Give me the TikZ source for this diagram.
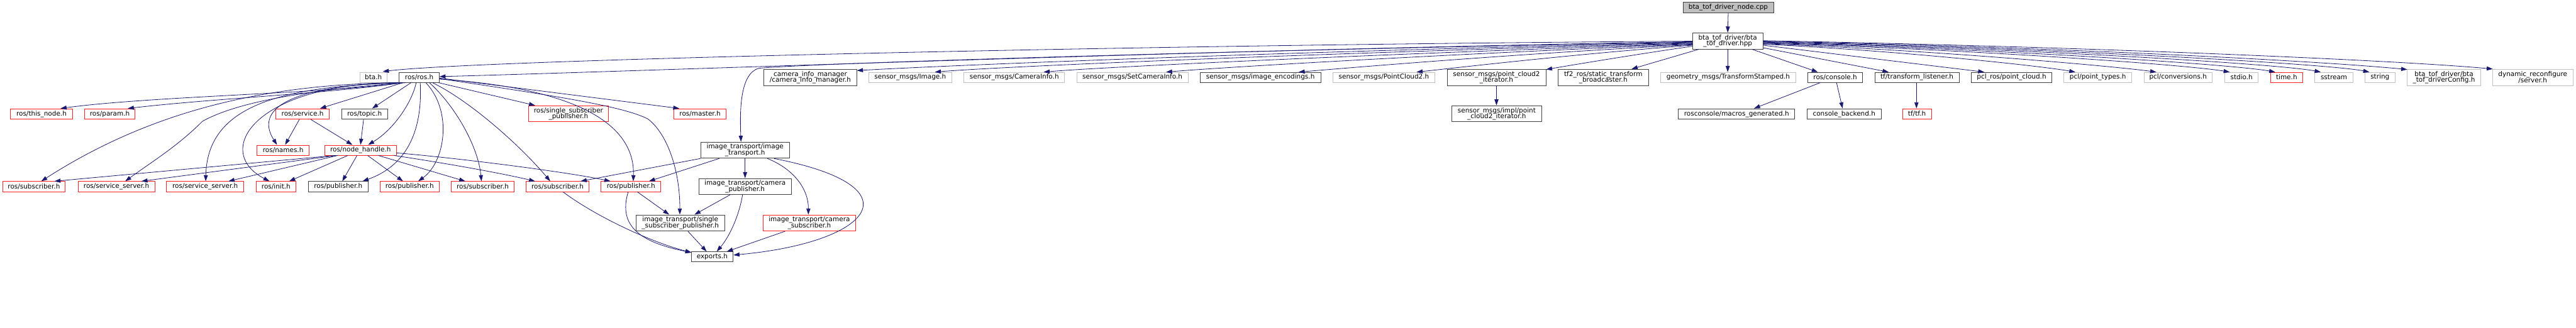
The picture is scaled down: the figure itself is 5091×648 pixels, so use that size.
\documentclass[tikz,border=0pt]{standalone}
\usepackage{fontspec}
\setmainfont{DejaVu Sans}
\usetikzlibrary{arrows.meta,calc}
\definecolor{edgeblue}{HTML}{191970}
\definecolor{boxgray}{HTML}{BFBFBF}
\definecolor{boxdark}{HTML}{404040}
\definecolor{boxred}{HTML}{FF2020}
\tikzset{
  fbox/.style={draw, rectangle, inner sep=0pt, align=center, fill=white, line width=1pt,
    font={\fontsize{13}{11.7}\selectfont\lineskiplimit=-20pt\lineskip=0pt}},
  dk/.style={fbox, draw=boxdark},
  gy/.style={fbox, draw=boxgray},
  rd/.style={fbox, draw=boxred},
  rt/.style={fbox, draw=boxdark, fill=boxgray},
  conn/.style={draw=edgeblue, line width=1pt, -{Triangle[length=12pt,width=8pt]}}
}
\newcommand\mknode[7]{%
  \pgfmathsetmacro\NDcx{(#3+#4)/2}\pgfmathsetmacro\NDcy{(#5+#6)/2}%
  \pgfmathsetmacro\NDw{#4-#3}\pgfmathsetmacro\NDh{#6-#5}%
  \node[#1, minimum width=\NDw pt, minimum height=\NDh pt] (#2) at (\NDcx,\NDcy) {#7};}
\begin{document}
\begin{tikzpicture}[x=1pt,y=-1pt]
\useasboundingbox (0,0) rectangle (5091,648);
% ---- nodes ----
\mknode{rt}{root}{3326}{3505}{4}{25}{bta\_tof\_driver\_node.cpp}
\mknode{dk}{hpp}{3345}{3484}{65}{97}{bta\_tof\_driver/bta\\\_tof\_driver.hpp}
\mknode{gy}{bta}{711}{765}{143}{163}{bta.h}
\mknode{dk}{rosros}{789}{868}{143}{163}{ros/ros.h}
\mknode{dk}{cim}{1510}{1693}{137}{169}{camera\_info\_manager\\/camera\_info\_manager.h}
\mknode{gy}{img}{1717}{1881}{143}{163}{sensor\_msgs/Image.h}
\mknode{gy}{caminfo}{1905}{2104}{143}{163}{sensor\_msgs/CameraInfo.h}
\mknode{gy}{setcam}{2128}{2348}{143}{163}{sensor\_msgs/SetCameraInfo.h}
\mknode{dk}{enc}{2372}{2610}{143}{163}{sensor\_msgs/image\_encodings.h}
\mknode{gy}{pc2}{2634}{2836}{143}{163}{sensor\_msgs/PointCloud2.h}
\mknode{dk}{pc2it}{2860}{3055}{137}{169}{sensor\_msgs/point\_cloud2\\\_iterator.h}
\mknode{dk}{tf2}{3079}{3258}{137}{169}{tf2\_ros/static\_transform\\\_broadcaster.h}
\mknode{gy}{geo}{3282}{3549}{143}{163}{geometry\_msgs/TransformStamped.h}
\mknode{dk}{console}{3573}{3681}{143}{163}{ros/console.h}
\mknode{dk}{tfl}{3705}{3872}{143}{163}{tf/transform\_listener.h}
\mknode{dk}{pclros}{3896}{4055}{143}{163}{pcl\_ros/point\_cloud.h}
\mknode{gy}{pcltypes}{4079}{4213}{143}{163}{pcl/point\_types.h}
\mknode{gy}{pclconv}{4237}{4372}{143}{163}{pcl/conversions.h}
\mknode{gy}{stdio}{4397}{4463}{143}{163}{stdio.h}
\mknode{rd}{time}{4487}{4551}{143}{163}{time.h}
\mknode{gy}{sstream}{4575}{4650}{143}{163}{sstream}
\mknode{gy}{string}{4674}{4733}{143}{163}{string}
\mknode{gy}{cfg}{4757}{4903}{137}{169}{bta\_tof\_driver/bta\\\_tof\_driverConfig.h}
\mknode{gy}{dyn}{4926}{5085}{137}{169}{dynamic\_reconfigure\\/server.h}
\mknode{rd}{thisnode}{21}{143}{215}{236}{ros/this\_node.h}
\mknode{rd}{param}{167}{267}{215}{236}{ros/param.h}
\mknode{rd}{service}{545}{651}{215}{236}{ros/service.h}
\mknode{dk}{topic}{675}{766}{215}{236}{ros/topic.h}
\mknode{rd}{rssp}{1044}{1203}{209}{241}{ros/single\_subscriber\\\_publisher.h}
\mknode{rd}{master}{1332}{1435}{215}{236}{ros/master.h}
\mknode{dk}{pc2impl}{2869}{3047}{209}{241}{sensor\_msgs/impl/point\\\_cloud2\_iterator.h}
\mknode{dk}{macros}{3317}{3547}{215}{236}{rosconsole/macros\_generated.h}
\mknode{dk}{backend}{3571}{3718}{215}{236}{console\_backend.h}
\mknode{rd}{tftf}{3760}{3817}{215}{236}{tf/tf.h}
\mknode{rd}{names}{508}{611}{287}{307}{ros/names.h}
\mknode{rd}{nh}{642}{783}{287}{307}{ros/node\_handle.h}
\mknode{dk}{it}{1385}{1560}{281}{313}{image\_transport/image\\\_transport.h}
\mknode{rd}{sub1}{5}{129}{359}{379}{ros/subscriber.h}
\mknode{rd}{ss1}{154}{306}{359}{379}{ros/service\_server.h}
\mknode{rd}{ss2}{329}{482}{359}{379}{ros/service\_server.h}
\mknode{rd}{init}{506}{585}{359}{379}{ros/init.h}
\mknode{dk}{pub1}{610}{727}{359}{379}{ros/publisher.h}
\mknode{rd}{pub2}{751}{868}{359}{379}{ros/publisher.h}
\mknode{rd}{sub2}{892}{1016}{359}{379}{ros/subscriber.h}
\mknode{rd}{sub3}{1040}{1164}{359}{379}{ros/subscriber.h}
\mknode{rd}{pub3}{1188}{1306}{359}{379}{ros/publisher.h}
\mknode{dk}{campub}{1381}{1564}{353}{385}{image\_transport/camera\\\_publisher.h}
\mknode{dk}{itssp}{1257}{1432}{425}{457}{image\_transport/single\\\_subscriber\_publisher.h}
\mknode{rd}{camsub}{1508}{1691}{425}{457}{image\_transport/camera\\\_subscriber.h}
\mknode{dk}{exports}{1366}{1449}{498}{518}{exports.h}
% ---- connectors: root / hpp ----
\draw[conn] (root.south) -- (hpp.north);
\draw[conn] ($(hpp.north west)+(0,17)$) .. controls (2300,88) and (950,118) .. ($(bta.north west)+(46,-1)$);
\draw[conn] ($(hpp.north west)+(0,18)$) .. controls (2400,98) and (1300,140) .. ($(rosros.north east)+(0,9)$);
\draw[conn] ($(hpp.north west)+(0,19)$) .. controls (2500,98) and (1600,125) .. (1500,135) .. controls (1462,145) and (1462,220) .. ($(it.north west)+(80,0)$);
\draw[conn] ($(hpp.north west)+(0,20)$) .. controls (2600,100) and (1900,128) .. ($(cim.north east)+(0,3)$);
\draw[conn] ($(hpp.north west)+(0,21)$) .. controls (2700,102) and (2000,130) .. ($(img.north west)+(131,0)$);
\draw[conn] ($(hpp.north west)+(0,22)$) .. controls (2800,104) and (2200,131) .. ($(caminfo.north west)+(158,0)$);
\draw[conn] ($(hpp.north west)+(0,23)$) .. controls (2900,105) and (2430,132) .. ($(setcam.north west)+(177,0)$);
\draw[conn] ($(hpp.north west)+(0,24)$) .. controls (3000,106) and (2680,133) .. ($(enc.north west)+(195,0)$);
\draw[conn] ($(hpp.north west)+(0,25)$) .. controls (3100,108) and (2880,134) .. ($(pc2.north west)+(166,0)$);
\draw[conn] ($(hpp.north west)+(0,27)$) .. controls (3250,105) and (3110,128) .. ($(pc2it.north east)+(0,1)$);
\draw[conn] ($(hpp.south west)+(13,0)$) -- ($(tf2.north west)+(146,0)$);
\draw[conn] ($(hpp.south west)+(70,0)$) -- ($(geo.north west)+(133,0)$);
\draw[conn] ($(hpp.south west)+(118,0)$) -- ($(console.north west)+(20,0)$);
\draw[conn] ($(hpp.north east)+(0,30)$) -- ($(tfl.north west)+(28,0)$);
\draw[conn] ($(hpp.north east)+(0,25)$) -- ($(pclros.north west)+(26,0)$);
\draw[conn] ($(hpp.north east)+(0,23)$) .. controls (3750,100) and (4030,130) .. ($(pcltypes.north west)+(23,0)$);
\draw[conn] ($(hpp.north east)+(0,22)$) .. controls (3800,98) and (4170,130) .. ($(pclconv.north west)+(25,0)$);
\draw[conn] ($(hpp.north east)+(0,21)$) .. controls (3900,98) and (4320,128) .. ($(stdio.north west)+(10,0)$);
\draw[conn] ($(hpp.north east)+(0,20)$) .. controls (3950,97) and (4410,127) .. ($(time.north west)+(10,0)$);
\draw[conn] ($(hpp.north east)+(0,19)$) .. controls (4000,96) and (4500,126) .. ($(sstream.north west)+(12,0)$);
\draw[conn] ($(hpp.north east)+(0,18)$) .. controls (4050,95) and (4600,126) .. ($(string.north west)+(9,0)$);
\draw[conn] ($(hpp.north east)+(0,17)$) .. controls (4100,94) and (4600,122) .. ($(cfg.north west)+(1,1)$);
\draw[conn] ($(hpp.north east)+(0,16)$) .. controls (4150,93) and (4750,120) .. ($(dyn.north west)+(1,0)$);
% ---- second level right part ----
\draw[conn] ($(pc2it.south west)+(98,0)$) -- ($(pc2impl.north west)+(89,0)$);
\draw[conn] ($(console.south west)+(25,0)$) -- ($(macros.north west)+(150,0)$);
\draw[conn] ($(console.south west)+(57,0)$) -- ($(backend.north west)+(71,0)$);
\draw[conn] ($(tfl.south west)+(83,0)$) -- ($(tftf.north west)+(28,0)$);
% ---- ros/ros.h ----
\draw[conn] ($(rosros.south west)+(6,0)$) .. controls (650,185) and (300,190) .. ($(thisnode.north west)+(99,0)$);
\draw[conn] ($(rosros.south west)+(8,0)$) .. controls (650,185) and (420,195) .. ($(param.north west)+(86,0)$);
\draw[conn] ($(rosros.south west)+(10,0)$) .. controls (560,165) and (320,205) .. ($(sub1.north west)+(77,0)$);
\draw[conn] ($(rosros.south west)+(12,0)$) .. controls (650,175) and (480,195) .. (400,240) .. controls (350,290) and (300,320) .. ($(ss1.north west)+(94,0)$);
\draw[conn] ($(rosros.south west)+(14,0)$) .. controls (550,170) and (410,210) .. ($(ss2.north west)+(78,0)$);
\draw[conn] ($(rosros.south west)+(1,0)$) .. controls (560,170) and (505,220) .. ($(names.north west)+(40,0)$);
\draw[conn] ($(rosros.south west)+(3,0)$) .. controls (500,165) and (420,300) .. ($(init.north west)+(27,0)$);
\draw[conn] ($(rosros.south west)+(8,0)$) -- ($(service.north west)+(88,0)$);
\draw[conn] ($(rosros.south west)+(24,0)$) -- ($(topic.north west)+(61,0)$);
\draw[conn] ($(rosros.south west)+(34,0)$) .. controls (815,200) and (780,255) .. ($(nh.north west)+(86,0)$);
\draw[conn] ($(rosros.south west)+(42,0)$) .. controls (835,250) and (810,325) .. ($(pub1.north west)+(107,0)$);
\draw[conn] ($(rosros.south west)+(53,0)$) .. controls (895,220) and (880,320) .. ($(pub2.north west)+(76,0)$);
\draw[conn] ($(rosros.south west)+(60,0)$) .. controls (900,210) and (945,290) .. ($(sub2.north west)+(60,0)$);
\draw[conn] ($(rosros.south west)+(66,0)$) .. controls (930,200) and (1030,290) .. ($(sub3.north west)+(48,0)$);
\draw[conn] ($(rosros.south east)+(-2,0)$) -- ($(rssp.north west)+(14,0)$);
\draw[conn] ($(rosros.north east)+(0,14)$) .. controls (1150,175) and (1255,250) .. ($(pub3.north west)+(64,0)$);
\draw[conn] ($(rosros.north east)+(0,12)$) -- ($(master.north west)+(11,0)$);
\draw[conn] ($(rosros.north east)+(0,13)$) .. controls (1100,190) and (1230,210) .. (1280,235) .. controls (1320,265) and (1344,340) .. ($(itssp.north west)+(87,0)$);
% ---- service / topic / node_handle ----
\draw[conn] ($(service.south west)+(47,0)$) -- ($(names.north west)+(56,0)$);
\draw[conn] ($(service.south west)+(70,0)$) -- ($(nh.north west)+(55,0)$);
\draw[conn] ($(topic.south west)+(44,0)$) -- ($(nh.north west)+(71,0)$);
\draw[conn] ($(nh.south west)+(21,0)$) -- ($(sub1.north west)+(103,0)$);
\draw[conn] ($(nh.south west)+(24,0)$) -- ($(ss1.north west)+(126,0)$);
\draw[conn] ($(nh.south west)+(26,0)$) -- ($(ss2.north west)+(123,0)$);
\draw[conn] ($(nh.south west)+(46,0)$) -- ($(init.north west)+(66,0)$);
\draw[conn] ($(nh.south west)+(64,0)$) -- ($(pub1.north west)+(67,0)$);
\draw[conn] ($(nh.south west)+(85,0)$) -- ($(pub2.north west)+(46,0)$);
\draw[conn] ($(nh.south west)+(106,0)$) -- ($(sub2.north west)+(28,0)$);
\draw[conn] ($(nh.south east)+(-5,0)$) .. controls (850,318) and (980,340) .. ($(sub3.north west)+(18,0)$);
\draw[conn] ($(nh.north east)+(0,16)$) .. controls (900,312) and (1120,340) .. ($(pub3.north west)+(19,0)$);
% ---- image_transport ----
\draw[conn] ($(it.south west)+(37,0)$) -- ($(pub3.north west)+(95,0)$);
\draw[conn] (it.south west) -- ($(sub3.north west)+(108,0)$);
\draw[conn] ($(it.south west)+(88,0)$) -- ($(campub.north west)+(92,0)$);
\draw[conn] ($(it.south west)+(132,0)$) .. controls (1570,335) and (1598,375) .. ($(camsub.north west)+(90,0)$);
\draw[conn] ($(it.south west)+(145,0)$) .. controls (1820,370) and (1720,480) .. ($(exports.north east)+(0,7)$);
\draw[conn] ($(campub.south west)+(62,0)$) -- ($(itssp.north west)+(116,0)$);
\draw[conn] ($(campub.south west)+(87,0)$) .. controls (1460,430) and (1440,470) .. ($(exports.north west)+(51,0)$);
\draw[conn] ($(camsub.south west)+(44,0)$) -- ($(exports.north west)+(71,0)$);
\draw[conn] ($(itssp.south west)+(103,0)$) -- ($(exports.north west)+(31,0)$);
\draw[conn] ($(sub3.south west)+(73,0)$) .. controls (1180,430) and (1290,480) .. ($(exports.north west)+(1,2)$);
\draw[conn] ($(pub3.south west)+(54,0)$) .. controls (1220,450) and (1270,480) .. ($(exports.north west)+(1,2)$);
\draw[conn] ($(pub3.south west)+(72,0)$) -- ($(itssp.north west)+(66,0)$);
\end{tikzpicture}
\end{document}
